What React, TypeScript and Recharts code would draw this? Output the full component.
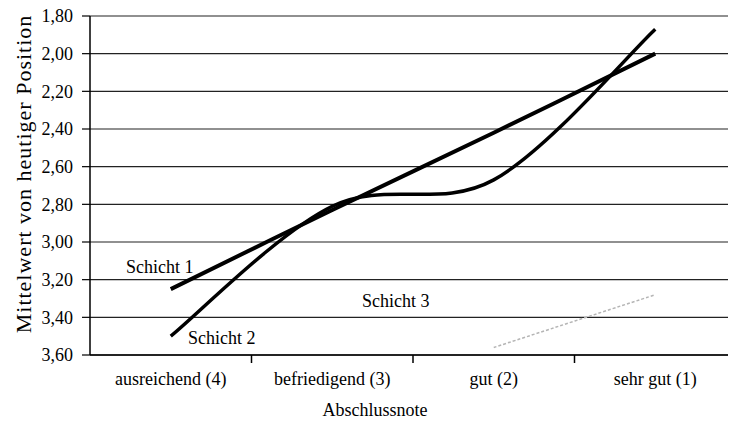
import React from 'react';
import { LineChart, Line, XAxis, YAxis, CartesianGrid, LabelList, Label } from 'recharts';

const categories = ['ausreichend (4)', 'befriedigend (3)', 'gut (2)', 'sehr gut (1)'];
const schicht1 = [3.25, 2.83, 2.42, 2.0];
const schicht2 = [3.5, 2.81, 2.67, 1.87];
const schicht3: (number | null)[] = [null, null, 3.56, 3.28];
const seriesNames = ['Schicht 1', 'Schicht 2', 'Schicht 3'];
const yTicks = [1.8, 2.0, 2.2, 2.4, 2.6, 2.8, 3.0, 3.2, 3.4, 3.6];
const yTitle = 'Mittelwert von heutiger Position';
const xTitle = 'Abschlussnote';

const data = categories.map((name, i) => ({
  x: i + 0.5,
  name,
  s1: schicht1[i],
  s2: schicht2[i],
  s3: schicht3[i],
}));
const xTicks = categories.flatMap((_, i) => (i === 0 ? [i + 0.5] : [i, i + 0.5]));

const FONT = '"Liberation Serif", "Times New Roman", serif';

// Excel-like smoothed line (Catmull-Rom through the points)
const smoothCurve: any = (context: any) => {
  let pts: [number, number][] = [];
  return {
    areaStart() {},
    areaEnd() {},
    lineStart() {
      pts = [];
    },
    point(x: number, y: number) {
      pts.push([+x, +y]);
    },
    lineEnd() {
      const n = pts.length;
      if (!n) return;
      context.moveTo(pts[0][0], pts[0][1]);
      if (n === 1) return;
      for (let i = 0; i < n - 1; i++) {
        const p0 = pts[i - 1] || pts[i];
        const p1 = pts[i];
        const p2 = pts[i + 1];
        const p3 = pts[i + 2] || pts[i + 1];
        const c1x = p1[0] + (p2[0] - p0[0]) / 6;
        const c1y = p1[1] + (p2[1] - p0[1]) / 6;
        const c2x = p2[0] - (p3[0] - p1[0]) / 6;
        const c2y = p2[1] - (p3[1] - p1[1]) / 6;
        context.bezierCurveTo(c1x, c1y, c2x, c2y, p2[0], p2[1]);
      }
    },
  };
};

const XTick = (props: any) => {
  const { x, y, payload } = props;
  const v = payload.value as number;
  if (Number.isInteger(v)) {
    return <line x1={x} x2={x} y1={y} y2={y + 8} stroke="#000" strokeWidth={1.5} />;
  }
  return (
    <text x={x} y={y + 30} textAnchor="middle" fontFamily={FONT} fontSize={18} fill="#000">
      {categories[Math.floor(v)]}
    </text>
  );
};

const makeSeriesLabel = (idx: number, text: string, dx: number, dy: number) => (props: any) => {
  const { x, y, index } = props;
  if (index !== idx || x == null || y == null) return null;
  return (
    <text x={x + dx} y={y + dy} textAnchor="middle" fontFamily={FONT} fontSize={18} fill="#000">
      {text}
    </text>
  );
};

export default function App() {
  return (
    <div style={{ width: 728, height: 428, marginTop: -8 }}>
      <LineChart
        width={728}
        height={428}
        data={data}
        margin={{ top: 16, right: 0, left: 0, bottom: 0 }}
      >
        <CartesianGrid vertical={false} stroke="#222" strokeWidth={1.2} horizontalValues={yTicks} />
        <XAxis
          type="number"
          dataKey="x"
          domain={[0, categories.length]}
          ticks={xTicks}
          interval={0}
          tickLine={false}
          tickSize={0}
          tickMargin={0}
          tick={<XTick />}
          height={73}
          axisLine={{ stroke: '#000', strokeWidth: 1.5 }}
        >
          <Label
            content={(p: any) => {
              const vb = p.viewBox;
              return (
                <text x={vb.x + vb.width / 2 - 38} y={vb.y + 61} textAnchor="middle" fontFamily={FONT} fontSize={18} fill="#000">
                  {xTitle}
                </text>
              );
            }}
          />
        </XAxis>
        <YAxis
          type="number"
          reversed
          domain={[1.8, 3.6]}
          ticks={yTicks}
          interval={0}
          width={82}
          tickSize={8}
          tickMargin={9}
          tickFormatter={(v: number) => v.toFixed(2).replace('.', ',')}
          tick={{ fontFamily: FONT, fontSize: 18, fill: '#000' }}
          tickLine={{ stroke: '#000', strokeWidth: 1.2 }}
          axisLine={{ stroke: '#000', strokeWidth: 1.5 }}
          allowDataOverflow
        >
          <Label
            content={(p: any) => {
              const vb = p.viewBox;
              const cx = vb.x + 15;
              const cy = 174;
              return (
                <text
                  x={cx}
                  y={cy}
                  transform={`rotate(-90 ${cx} ${cy})`}
                  textAnchor="middle"
                  dominantBaseline="central"
                  fontFamily={FONT}
                  fontSize={22}
                  letterSpacing={1}
                  fill="#000"
                >
                  {yTitle}
                </text>
              );
            }}
          />
        </YAxis>
        <Line
          type={smoothCurve}
          dataKey="s3"
          stroke="#b5b5b5"
          strokeWidth={1.5}
          strokeDasharray="3 2"
          dot={false}
          activeDot={false}
          isAnimationActive={false}
          connectNulls={false}
        >
          <LabelList dataKey="s3" content={makeSeriesLabel(2, seriesNames[2], -98, -40)} />
        </Line>
        <Line
          type={smoothCurve}
          dataKey="s2"
          stroke="#000"
          strokeWidth={3.5}
          dot={false}
          activeDot={false}
          isAnimationActive={false}
        >
          <LabelList dataKey="s2" content={makeSeriesLabel(0, seriesNames[1], 51, 8)} />
        </Line>
        <Line
          type={smoothCurve}
          dataKey="s1"
          stroke="#000"
          strokeWidth={4}
          dot={false}
          activeDot={false}
          isAnimationActive={false}
        >
          <LabelList dataKey="s1" content={makeSeriesLabel(0, seriesNames[0], -11, -16)} />
        </Line>
      </LineChart>
    </div>
  );
}
